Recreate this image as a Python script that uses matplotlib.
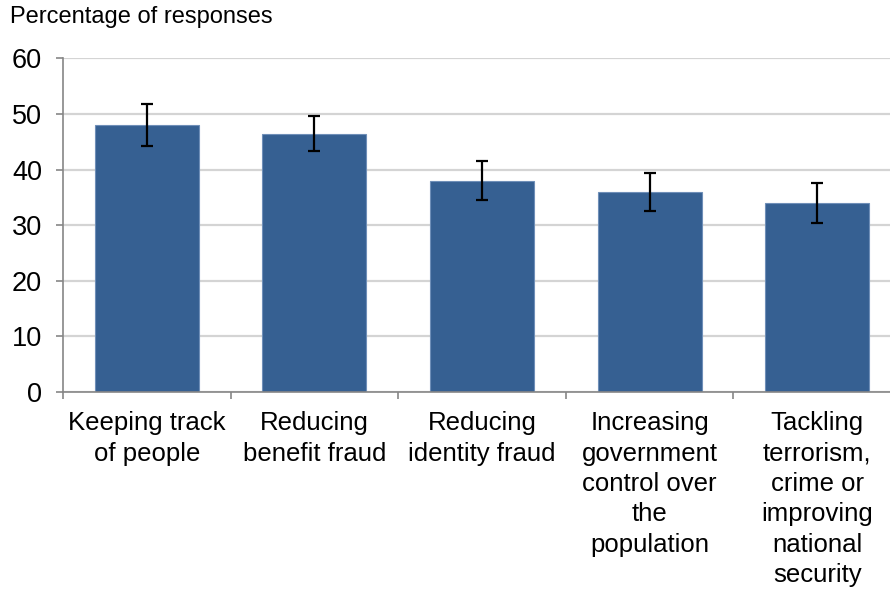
import numpy as np
import matplotlib.pyplot as plt

plt.rcParams['font.family'] = ['Liberation Sans', 'DejaVu Sans']

# survey results with 95% confidence intervals
categories = ['Keeping track\nof people', 'Reducing\nbenefit fraud', 'Reducing\nidentity fraud',
              'Increasing\ngovernment\ncontrol over\nthe\npopulation',
              'Tackling\nterrorism,\ncrime or\nimproving\nnational\nsecurity']
values = [48.0, 46.4, 37.9, 35.9, 34.0]
err_low = [3.7, 3.0, 3.4, 3.3, 3.6]
err_high = [3.8, 3.2, 3.6, 3.5, 3.6]
yticks = [0, 10, 20, 30, 40, 50, 60]

fig = plt.figure(figsize=(8.9, 5.92), dpi=100)
ax = fig.add_axes([63 / 890, 1 - 392 / 592, 838 / 890, 333.7 / 592])

x = np.arange(len(categories))
ax.bar(x, values, width=0.62, color='#366092', edgecolor='#6f8fb8', linewidth=0.8, zorder=2)
ax.errorbar(x, values, yerr=[err_low, err_high], fmt='none', ecolor='black',
            elinewidth=1.6, capsize=4.5, capthick=1.6, zorder=3)

ax.set_ylim(0, 60)
ax.set_xlim(-0.5, len(categories) - 0.5)
ax.set_yticks(yticks)
ax.grid(axis='y', color='#d4d4d4', linewidth=1.6, zorder=0)
ax.set_axisbelow(True)

for side in ['top', 'right']:
    ax.spines[side].set_visible(False)
for side in ['left', 'bottom']:
    ax.spines[side].set_color('#868686')
    ax.spines[side].set_linewidth(1.2)

ax.tick_params(axis='y', length=5, width=1.2, color='#868686', pad=10, labelsize=19.5)
ax.set_xticks(x)
ax.set_xticklabels(categories, fontsize=18.5, linespacing=1.33)
ax.tick_params(axis='x', which='major', length=0, pad=14)
ax.set_xticks(np.arange(-0.5, len(categories)), minor=True)
ax.tick_params(axis='x', which='minor', length=5, width=1.2, color='#868686')

fig.text(10 / 890, 1 - 6 / 592, 'Percentage of responses', fontsize=17, va='top', ha='left')

fig.savefig('out.png', dpi=100)
